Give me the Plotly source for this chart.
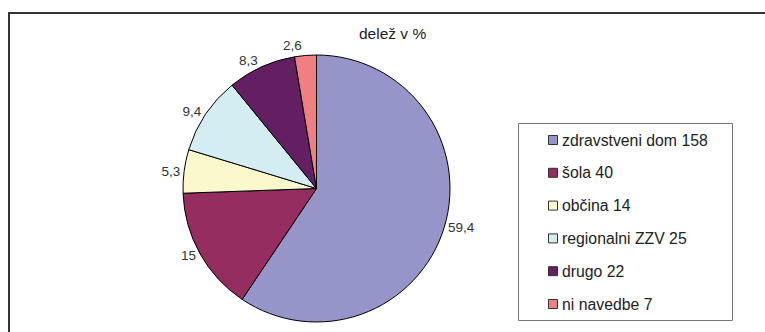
import plotly.graph_objects as go

# ---- data ----
categories = ["zdravstveni dom", "šola", "občina", "regionalni ZZV", "drugo", "ni navedbe"]
counts = [158, 40, 14, 25, 22, 7]
share_labels = ["59,4", "15", "5,3", "9,4", "8,3", "2,6"]
colors = ["#9595c9", "#952d60", "#fbf9cc", "#d4edf3", "#631f62", "#f08080"]
title_text = "delež v %"

W, H = 765, 332


def px(x):
    return x / W


def py(y):
    return 1 - y / H


FONT = "Liberation Sans, Arial, sans-serif"

fig = go.Figure()
fig.add_trace(go.Pie(
    labels=categories,
    values=counts,
    text=share_labels,
    textinfo="text",
    textposition="outside",
    sort=False,
    direction="clockwise",
    rotation=0,
    marker=dict(colors=colors, line=dict(color="#000000", width=1)),
    outsidetextfont=dict(family=FONT, size=13.5, color="#333333"),
    domain=dict(x=[px(183), px(450)], y=[py(322), py(55)]),
    showlegend=False,
    hoverinfo="label+value",
))

shapes = [
    # outer frame (extends beyond the visible window on right and bottom)
    dict(type="rect", xref="paper", yref="paper",
         x0=px(9), x1=px(775), y0=py(345), y1=py(13),
         line=dict(color="#333333", width=2), fillcolor="rgba(0,0,0,0)"),
    # legend frame
    dict(type="rect", xref="paper", yref="paper",
         x0=px(518.5), x1=px(732.5), y0=py(320.5), y1=py(123.5),
         line=dict(color="#777777", width=1), fillcolor="rgba(0,0,0,0)"),
]
annotations = [
    dict(text=title_text, xref="paper", yref="paper", x=px(357), y=py(33),
         xanchor="left", yanchor="middle", showarrow=False,
         font=dict(family=FONT, size=15.5, color="#222222")),
]

legend_y0, legend_step = 140, 32.8
for i, (cat, n, col) in enumerate(zip(categories, counts, colors)):
    yc = legend_y0 + i * legend_step
    shapes.append(dict(type="rect", xref="paper", yref="paper",
                       x0=px(548.5), x1=px(557.5), y0=py(yc + 4.5), y1=py(yc - 4.5),
                       line=dict(color="#333333", width=1), fillcolor=col))
    annotations.append(dict(text=f"{cat} {n}", xref="paper", yref="paper",
                            x=px(560), y=py(yc), xanchor="left", yanchor="middle",
                            showarrow=False,
                            font=dict(family=FONT, size=15.8, color="#222222")))

fig.update_layout(
    width=W, height=H,
    margin=dict(l=0, r=0, t=0, b=0),
    paper_bgcolor="#ffffff",
    plot_bgcolor="#ffffff",
    shapes=shapes,
    annotations=annotations,
    showlegend=False,
)

# the reference has no leader lines next to the outside labels
post = """
var gd = document.getElementById('{plot_id}');
function hideLines() {
  gd.querySelectorAll('path.textline').forEach(function (e) { e.style.display = 'none'; });
}
hideLines();
gd.on('plotly_afterplot', hideLines);
"""
fig.write_html("out.html", post_script=post)
